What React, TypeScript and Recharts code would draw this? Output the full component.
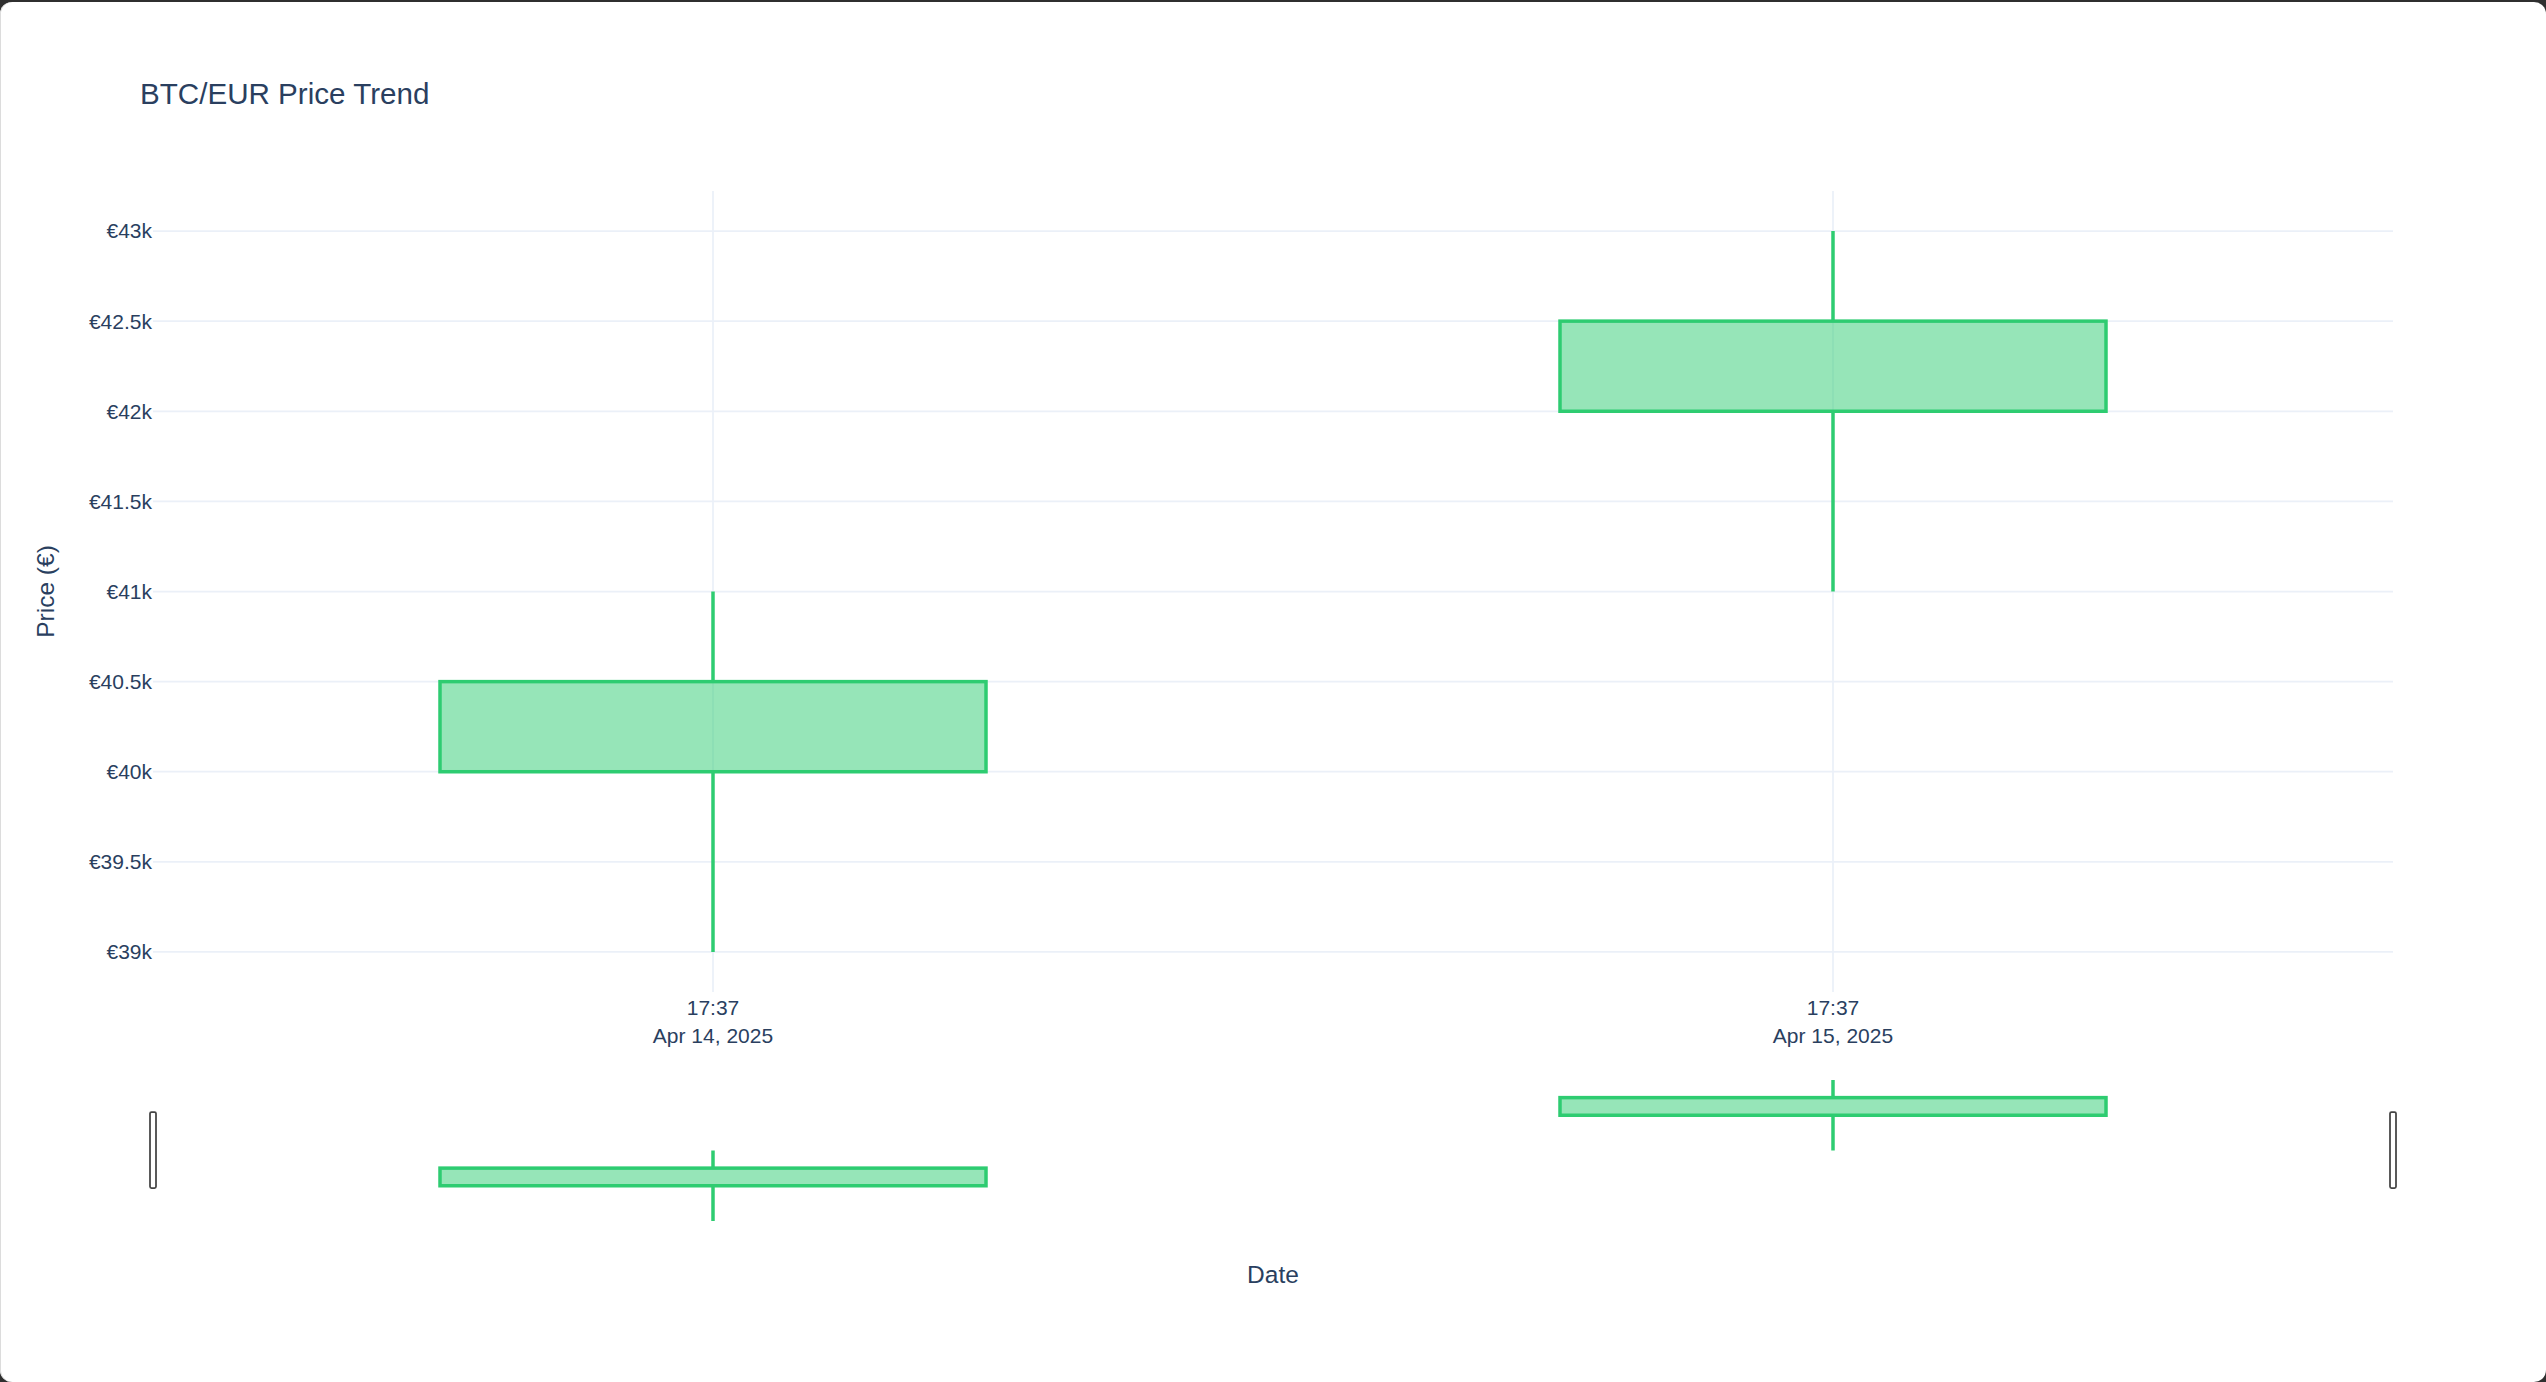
import React from 'react';
import { ComposedChart, Bar, XAxis, YAxis, CartesianGrid } from 'recharts';

// candle data
const dates = ['2025-04-14T17:37', '2025-04-15T17:37'];
const timeLabels = ['17:37', '17:37'];
const dayLabels = ['Apr 14, 2025', 'Apr 15, 2025'];
const opens = [40000, 42000];
const closes = [40500, 42500];
const highs = [41000, 43000];
const lows = [39000, 41000];
const yTicks = [39000, 39500, 40000, 40500, 41000, 41500, 42000, 42500, 43000];

const data = dates.map((date, i) => ({
    date,
    open: opens[i],
    close: closes[i],
    high: highs[i],
    low: lows[i],
    range: [lows[i], highs[i]],
}));

const FONT = '"Liberation Sans", Arial, Helvetica, sans-serif';
const TEXT = '#2a3f5f';
const GRID = '#ebf0f8';
const INC = '#2ecc71';
const DEC = '#e74c3c';
const W = 2546;
const H = 1382;

// draws wick + body inside the [low, high] bar rectangle recharts gives us
const Candle = (props: any) => {
    const { x, y, width, height, payload } = props;
    if (!payload || width == null || height == null) return null;
    const { open, close, high, low } = payload;
    const top = Math.min(y, y + height);
    const h = Math.abs(height);
    const k = h / (high - low);
    const py = (v: number) => top + (high - v) * k;
    const bodyTop = py(Math.max(open, close));
    const bodyBot = py(Math.min(open, close));
    const cx = x + width / 2;
    const color = close >= open ? INC : DEC;
    return (
        <g>
            <line x1={cx} x2={cx} y1={top} y2={bodyTop} stroke={color} strokeWidth={3.5} />
            <line x1={cx} x2={cx} y1={bodyBot} y2={top + h} stroke={color} strokeWidth={3.5} />
            <rect
                x={x}
                y={bodyTop}
                width={width}
                height={bodyBot - bodyTop}
                fill={color}
                fillOpacity={0.5}
                stroke={color}
                strokeWidth={3.5}
            />
        </g>
    );
};

const DateTick = (props: any) => {
    const { x, y, index } = props;
    return (
        <g>
            <text x={x} y={y + 23} textAnchor="middle" fill={TEXT} fontSize={21} fontFamily={FONT}>
                {timeLabels[index]}
            </text>
            <text x={x} y={y + 51} textAnchor="middle" fill={TEXT} fontSize={21} fontFamily={FONT}>
                {dayLabels[index]}
            </text>
        </g>
    );
};

const PriceLabel = (props: any) => {
    const { viewBox } = props;
    const cy = viewBox.y + viewBox.height / 2;
    return (
        <text
            x={0}
            y={0}
            transform={`translate(${viewBox.x + 53.5},${cy}) rotate(-90)`}
            textAnchor="middle"
            fill={TEXT}
            fontSize={24.5}
            fontFamily={FONT}
        >
            Price (€)
        </text>
    );
};

export default function App() {
    return (
        <div style={{ position: 'absolute', left: 0, top: 0, width: W, height: H, background: '#2f2f2f', overflow: 'hidden' }}>
            <div
                style={{
                    position: 'absolute',
                    left: 0,
                    top: 2,
                    width: W,
                    height: H - 2,
                    background: '#fff',
                    borderRadius: 12,
                    boxShadow: 'inset 1px 0 0 #dcdcdc',
                }}
            />

            {/* main candlestick panel */}
            <div style={{ position: 'absolute', left: 0, top: 0 }}>
                <ComposedChart
                    width={W}
                    height={1060}
                    data={data}
                    margin={{ top: 191, right: 153, left: 0, bottom: 0 }}
                >
                    <CartesianGrid stroke={GRID} strokeWidth={1.75} syncWithTicks />
                    <XAxis
                        dataKey="date"
                        type="category"
                        height={68}
                        axisLine={false}
                        tickLine={false}
                        tickSize={0}
                        tickMargin={0}
                        tick={<DateTick />}
                        interval={0}
                    />
                    <YAxis
                        type="number"
                        width={153}
                        domain={[38778, 43222]}
                        ticks={yTicks}
                        allowDataOverflow
                        axisLine={false}
                        tickLine={false}
                        tickSize={0}
                        tickMargin={1}
                        tick={{ fill: TEXT, fontSize: 21, fontFamily: FONT }}
                        tickFormatter={(v: number) => `€${v / 1000}k`}
                        label={<PriceLabel />}
                    />
                    <Bar dataKey="range" barSize={546} shape={<Candle />} isAnimationActive={false} />
                </ComposedChart>
            </div>

            {/* range slider preview */}
            <div style={{ position: 'absolute', left: 0, top: 1060 }}>
                <ComposedChart
                    width={W}
                    height={180}
                    data={data}
                    margin={{ top: 20, right: 153, left: 153, bottom: 19 }}
                >
                    <XAxis dataKey="date" type="category" hide />
                    <YAxis type="number" domain={[39000, 43000]} allowDataOverflow hide />
                    <Bar dataKey="range" barSize={546} shape={<Candle />} isAnimationActive={false} />
                </ComposedChart>
            </div>

            {/* title, x-axis title and slider handles */}
            <svg
                width={W}
                height={H}
                style={{ position: 'absolute', left: 0, top: 0, pointerEvents: 'none' }}
            >
                <text x={140} y={104} fill={TEXT} fontSize={29.6} fontFamily={FONT}>
                    BTC/EUR Price Trend
                </text>
                <text x={1273} y={1283} textAnchor="middle" fill={TEXT} fontSize={24.5} fontFamily={FONT}>
                    Date
                </text>
                <rect x={150} y={1112} width={6} height={76} rx={1.5} fill="#fff" stroke="#444" strokeWidth={1.75} />
                <rect x={2390} y={1112} width={6} height={76} rx={1.5} fill="#fff" stroke="#444" strokeWidth={1.75} />
            </svg>
        </div>
    );
}
